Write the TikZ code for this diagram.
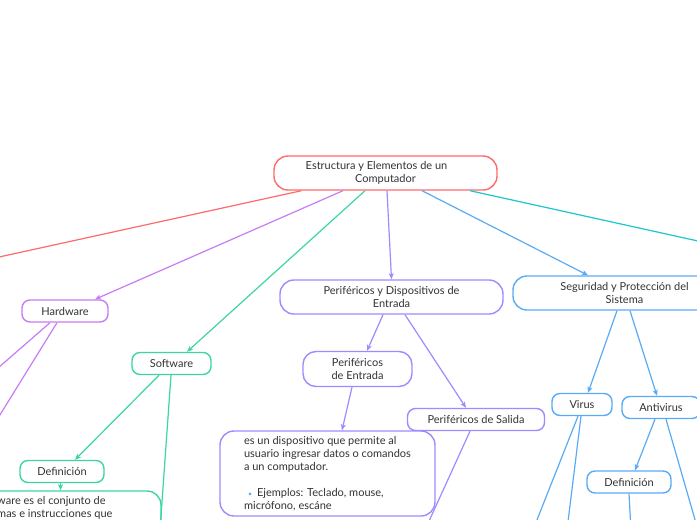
\documentclass[tikz,border=0pt]{standalone}
\usepackage{fontspec}
\setmainfont{Lato}
\usetikzlibrary{arrows.meta, calc, fit}
\definecolor{rootred}{HTML}{FF6B6B}
\definecolor{hwpurple}{HTML}{C77DF3}
\definecolor{swgreen}{HTML}{3DD6A3}
\definecolor{perlilac}{HTML}{9D8CFF}
\definecolor{segblue}{HTML}{5AABF5}
\definecolor{linkcyan}{HTML}{1CC6CC}
\definecolor{txtgray}{HTML}{333333}

\begin{document}
\begin{tikzpicture}[
  x=1pt, y=-1pt,
  >={Stealth[length=6pt, width=5pt, inset=1.5pt]},
  topic/.style={rounded corners=8pt, line width=1.4pt, fill=white, align=center,
                text=txtgray, font=\fontsize{11}{13}\selectfont, inner sep=0pt},
  link/.style={line width=1.2pt},
]

% Background and frame
\useasboundingbox (0,0) rectangle (697,520);
\clip (0,0) rectangle (697,520);
\fill[white] (0,0) rectangle (697,520);

% ============ Central topic ============
\node[topic, draw=rootred, minimum width=223pt, minimum height=34pt, rounded corners=14pt]
  (root) at (385.5,173) {Estructura y Elementos de un\hspace*{18pt}\\Computador};

% ============ Main branches ============
\node[topic, draw=hwpurple, minimum width=86pt, minimum height=22pt] (hw) at (65,311) {Hardware};
\node[topic, draw=swgreen, minimum width=79pt, minimum height=22pt] (sw) at (171.5,363.5) {Software};
\node[topic, draw=perlilac, minimum width=223pt, minimum height=34pt, rounded corners=14pt]
  (per) at (391.5,297) {Periféricos y Dispositivos de\\Entrada};
\node[topic, draw=segblue, minimum width=223pt, minimum height=34pt, rounded corners=14pt]
  (seg) at (624.5,293) {Seguridad y Protección del\\Sistema};

% Software subtopics
\node[topic, draw=swgreen, minimum width=84pt, minimum height=22pt] (defsw) at (62,471.5) {Definición};
\node[align=left, anchor=north west, text=txtgray, font=\fontsize{11}{13}\selectfont, inner sep=0pt]
  (swtext) at (-3,496) {ware es el conjunto de\\mas e instrucciones que};
\node[draw=swgreen, line width=1.4pt, rounded corners=14pt, inner sep=0pt,
      fit={(-40,491) (161,580)}] (swdesc) {};

% Peripheral subtopics
\node[topic, draw=perlilac, minimum width=109pt, minimum height=35pt, rounded corners=13pt]
  (perin) at (357.5,369) {Periféricos\\de Entrada};
\node[topic, draw=perlilac, minimum width=137pt, minimum height=22pt] (persal) at (476,419.5) {Periféricos de Salida};
\node[topic, draw=perlilac, minimum width=215pt, minimum height=85pt, rounded corners=14pt, align=left]
  (desc) at (327.5,473.5) {es un dispositivo que permite al\\usuario ingresar datos o comandos\\a un computador.\\[13pt]%
  \hspace*{4pt}{\color{segblue}\scriptsize\textbullet}\hspace{5pt}Ejemplos: Teclado, mouse,\\micrófono, escáne};

% Security subtopics
\node[topic, draw=segblue, minimum width=60pt, minimum height=22pt] (virus) at (582,404.5) {Virus};
\node[topic, draw=segblue, minimum width=78pt, minimum height=22pt] (anti) at (661,407.5) {Antivirus};
\node[topic, draw=segblue, minimum width=84pt, minimum height=22pt] (defav) at (629,482) {Definición};

% Free ends beyond the page
\coordinate (redend) at (-10,259);
\coordinate (cyanend) at (707,243);
\coordinate (hwend1) at (-10,375);
\coordinate (hwend2) at (-10,431);
\coordinate (swend) at (160,530);
\coordinate (salend) at (425,530);
\coordinate (virend1) at (533,530);
\coordinate (virend2) at (567,530);
\coordinate (antend) at (698,530);
\coordinate (defavend) at (631,530);

% ============ Connectors ============
\draw[link, rootred] ($(root.south)+(-84,0)$) -- (redend);
\draw[link, hwpurple, ->] ($(root.south)+(-42.5,0)$) -- ($(hw.north)+(30,0)$);
\draw[link, swgreen, ->] ($(root.south)+(-20.5,0)$) -- ($(sw.north)+(15.5,0)$);
\draw[link, perlilac, ->] ($(root.south)+(1.5,0)$) -- (per.north);
\draw[link, segblue, ->] ($(root.south)+(36.5,0)$) -- ($(seg.north)+(-36.5,0)$);
\draw[link, linkcyan] ($(root.south)+(84.5,0)$) -- (cyanend);

\draw[link, hwpurple] ($(hw.south)+(-15,0)$) -- (hwend1);
\draw[link, hwpurple] ($(hw.south)+(-8,0)$) -- (hwend2);

\draw[link, swgreen, ->] ($(sw.south)+(-12.5,0)$) -- ($(defsw.north)+(13,0)$);
\draw[link, swgreen] ($(sw.south)+(-0.5,0)$) -- (swend);
\draw[link, swgreen, ->] (defsw.south -| swdesc.north) -- (swdesc.north);

\draw[link, perlilac, ->] ($(per.south)+(-8.5,0)$) -- ($(perin.north)+(9.5,0)$);
\draw[link, perlilac, ->] ($(per.south)+(13.5,0)$) -- ($(persal.north)+(-10,0)$);
\draw[link, perlilac, ->] ($(perin.south)+(-5.5,0)$) -- ($(desc.north)+(14.5,0)$);
\draw[link, perlilac] ($(persal.south)+(-6,0)$) -- (salend);

\draw[link, segblue, ->] ($(seg.south)+(-7.5,0)$) -- ($(virus.north)+(6,0)$);
\draw[link, segblue, ->] ($(seg.south)+(5.5,0)$) -- ($(anti.north)+(-4,0)$);
\draw[link, segblue] ($(virus.south)+(-4,0)$) -- (virend1);
\draw[link, segblue] ($(virus.south)+(-1,0)$) -- (virend2);
\draw[link, segblue, ->] ($(anti.south)+(-6,0)$) -- ($(defav.north)+(6,0)$);
\draw[link, segblue] ($(anti.south)+(5,0)$) -- (antend);
\draw[link, segblue] (defav.south) -- (defavend);

\end{tikzpicture}
\end{document}
